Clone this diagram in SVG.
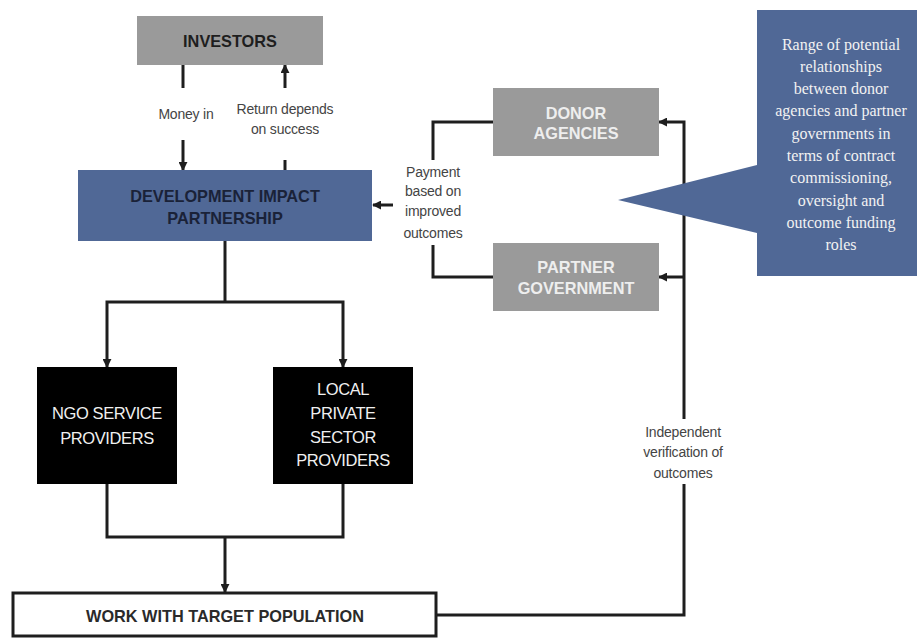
<svg xmlns="http://www.w3.org/2000/svg" width="917" height="638" viewBox="0 0 917 638">
  <defs>
    <marker id="arrow" viewBox="0 0 10 10" refX="9" refY="5" markerWidth="3" markerHeight="3" orient="auto" markerUnits="strokeWidth">
      <path d="M0,0 L10,5 L0,10 z" fill="#1e1e1e"/>
    </marker>
    <style>
      .line { fill: none; stroke: #1e1e1e; stroke-width: 3; }
      .head { font-family: "Liberation Sans", Arial, sans-serif; font-weight: bold; font-size: 16.3px; text-anchor: middle; }
      .prov { font-family: "Liberation Sans", Arial, sans-serif; font-size: 16.5px; fill: #f0f0f0; text-anchor: middle; letter-spacing: -0.4px; }
      .label { font-family: "Liberation Sans", Arial, sans-serif; font-size: 14px; fill: #444; text-anchor: middle; letter-spacing: -0.2px; }
      .note { font-family: "Liberation Serif", "Times New Roman", serif; font-size: 16px; fill: #f2f2f2; text-anchor: middle; }
    </style>
  </defs>
  <rect width="917" height="638" fill="#ffffff"/>

  <!-- connectors -->
  <g id="connectors">
    <!-- investors <-> partnership -->
    <path class="line" d="M183,65 V88"/>
    <path class="line" d="M183,140 V170" marker-end="url(#arrow)"/>
    <path class="line" d="M285,88 V65" marker-end="url(#arrow)"/>
    <path class="line" d="M285,160 V170"/>
    <!-- payers -> partnership -->
    <path class="line" d="M493,122 H433 V160"/>
    <path class="line" d="M433,245 V277 H493"/>
    <path class="line" d="M393,205 H373" marker-end="url(#arrow)"/>
    <!-- partnership -> providers -->
    <path class="line" d="M225,241 V302"/>
    <path class="line" d="M225,302 H343 V367" marker-end="url(#arrow)"/>
    <path class="line" d="M225,302 H107 V367" marker-end="url(#arrow)"/>
    <!-- providers -> target population -->
    <path class="line" d="M107,484 V537 H343 V484"/>
    <path class="line" d="M225,537 V592" marker-end="url(#arrow)"/>
    <!-- verification loop -->
    <path class="line" d="M436,615 H684 V484"/>
    <path class="line" d="M684,419 V122 H659" marker-end="url(#arrow)"/>
    <path class="line" d="M684,277 H659" marker-end="url(#arrow)"/>
    <text class="label" x="186" y="119">Money in</text>
    <text class="label" x="285" y="114">Return depends</text>
    <text class="label" x="285" y="134">on success</text>
    <text class="label" x="433" y="177">Payment</text>
    <text class="label" x="433" y="196">based on</text>
    <text class="label" x="433" y="216">improved</text>
    <text class="label" x="433" y="238">outcomes</text>
    <text class="label" x="683" y="437">Independent</text>
    <text class="label" x="683" y="457">verification of</text>
    <text class="label" x="683" y="478">outcomes</text>
  </g>

  <g id="investors">
    <rect x="137" y="16" width="186" height="49" fill="#9a9a9a"/>
    <text class="head" x="230" y="47" fill="#1e1e1e">INVESTORS</text>
  </g>

  <g id="partnership">
    <rect x="78" y="170" width="294" height="71" fill="#506896"/>
    <text class="head" x="225" y="202" fill="#1a2238">DEVELOPMENT IMPACT</text>
    <text class="head" x="225" y="224" fill="#1a2238">PARTNERSHIP</text>
  </g>

  <g id="donor-agencies">
    <rect x="493" y="88" width="166" height="68" fill="#9a9a9a"/>
    <text class="head" x="576" y="119" fill="#eeeeee">DONOR</text>
    <text class="head" x="576" y="139" fill="#eeeeee">AGENCIES</text>
  </g>

  <g id="partner-government">
    <rect x="493" y="243" width="166" height="68" fill="#9a9a9a"/>
    <text class="head" x="576" y="273" fill="#eeeeee">PARTNER</text>
    <text class="head" x="576" y="294" fill="#eeeeee">GOVERNMENT</text>
  </g>

  <g id="callout">
    <path d="M757,10 H917 V276 H757 V233 L618,200 L757,165 Z" fill="#506896"/>
    <text class="note" x="841" y="50">Range of potential</text>
    <text class="note" x="841" y="72">relationships</text>
    <text class="note" x="841" y="94">between donor</text>
    <text class="note" x="841" y="116">agencies and partner</text>
    <text class="note" x="841" y="139">governments in</text>
    <text class="note" x="841" y="161">terms of contract</text>
    <text class="note" x="841" y="183">commissioning,</text>
    <text class="note" x="841" y="206">oversight and</text>
    <text class="note" x="841" y="228">outcome funding</text>
    <text class="note" x="841" y="250">roles</text>
  </g>

  <g id="ngo-providers">
    <rect x="37" y="367" width="140" height="117" fill="#000000"/>
    <text class="prov" x="107" y="419">NGO SERVICE</text>
    <text class="prov" x="107" y="444">PROVIDERS</text>
  </g>

  <g id="local-private-providers">
    <rect x="273" y="367" width="140" height="117" fill="#000000"/>
    <text class="prov" x="343" y="395">LOCAL</text>
    <text class="prov" x="343" y="419">PRIVATE</text>
    <text class="prov" x="343" y="443">SECTOR</text>
    <text class="prov" x="343" y="466">PROVIDERS</text>
  </g>

  <g id="target-population">
    <rect x="13" y="593" width="423" height="43" fill="#ffffff" stroke="#1e1e1e" stroke-width="3"/>
    <text class="head" x="225" y="622" fill="#2a2a2a">WORK WITH TARGET POPULATION</text>
  </g>
</svg>
